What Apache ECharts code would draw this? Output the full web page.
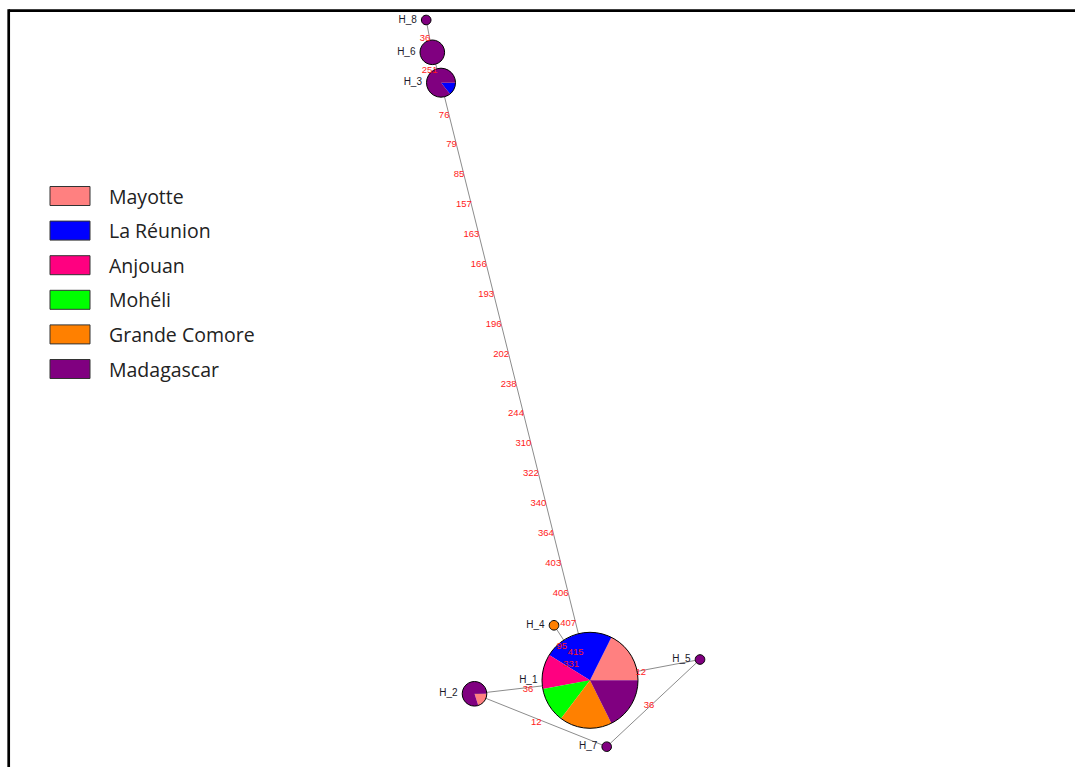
<!DOCTYPE html>
<html>
<head>
<meta charset="utf-8">
<script src="https://cdn.jsdelivr.net/npm/echarts@6/dist/echarts.min.js"></script>
<style>
  html, body { margin: 0; padding: 0; background: #ffffff; }
  #chart { width: 1075px; height: 767px; }
</style>
</head>
<body>
<div id="chart"></div>
<script>
// Populations and their pie colours
const populations = ['Mayotte', 'La Réunion', 'Anjouan', 'Mohéli', 'Grande Comore', 'Madagascar'];
const populationColors = ['#ff8080', '#0000ff', '#ff0080', '#00ff00', '#ff8000', '#800080'];

// Haplotypes and their position in the network layout
const haplotypes = ['H_1', 'H_2', 'H_3', 'H_4', 'H_5', 'H_6', 'H_7', 'H_8'];
const layoutX = [590, 474.5, 441, 554, 700, 432.3, 606.7, 426.2];
const layoutY = [680.3, 693.8, 82.7, 625.3, 659.5, 52.3, 746.7, 20];

// Individuals per population inside each haplotype, in slice order (clockwise from east)
const compH1 = [['Madagascar', 3], ['Grande Comore', 3], ['Mohéli', 2], ['Anjouan', 2], ['La Réunion', 4], ['Mayotte', 3]];
const compH2 = [['Mayotte', 1], ['Madagascar', 4]];
const compH3 = [['La Réunion', 1], ['Madagascar', 6]];
const compH4 = [['Grande Comore', 1]];
const compH5 = [['Madagascar', 1]];
const compH6 = [['Madagascar', 5]];
const compH7 = [['Madagascar', 1]];
const compH8 = [['Madagascar', 1]];
const compositions = [compH1, compH2, compH3, compH4, compH5, compH6, compH7, compH8];

// Network links with the mutated sites written along each one
const linkFrom = ['H_8', 'H_6', 'H_3', 'H_4', 'H_1', 'H_1', 'H_2', 'H_7'];
const linkTo   = ['H_6', 'H_3', 'H_1', 'H_1', 'H_5', 'H_2', 'H_7', 'H_5'];
const linkSites = [
  ['36'],
  ['251'],
  ['76', '79', '85', '157', '163', '166', '193', '196', '202', '238', '244', '310', '322', '340', '364', '403', '406', '407', '415'],
  ['95', '331'],
  ['12'],
  ['36'],
  ['12'],
  ['36']
];

// ---- styling ----
// circle radius (px) against haplotype frequency
const radiusStops = [[1, 4.8], [5, 12.3], [7, 14.5], [17, 48]];
function radiusOf(n) {
  for (let i = 1; i < radiusStops.length; i++) {
    const a = radiusStops[i - 1], b = radiusStops[i];
    if (n <= b[0]) return a[1] + (b[1] - a[1]) * (n - a[0]) / (b[0] - a[0]);
  }
  return radiusStops[radiusStops.length - 1][1];
}

const idx = name => haplotypes.indexOf(name);
const totals = compositions.map(c => c.reduce((s, p) => s + p[1], 0));

// slices per population: [x, y, startAngle, endAngle, radius]
const sliceData = populations.map(() => []);
compositions.forEach((comp, h) => {
  let a = 0;
  const r = radiusOf(totals[h]);
  comp.forEach(([pop, n]) => {
    const span = n / totals[h] * Math.PI * 2;
    sliceData[populations.indexOf(pop)].push([layoutX[h], layoutY[h], a, a + span, r]);
    a += span;
  });
});

const nodeData = haplotypes.map((name, h) => [layoutX[h], layoutY[h], radiusOf(totals[h]), name]);

const linkData = linkFrom.map((f, i) => {
  const a = idx(f), b = idx(linkTo[i]);
  return [layoutX[a], layoutY[a], layoutX[b], layoutY[b]];
});

// site labels are spread evenly along their link
const siteData = [];
linkFrom.forEach((f, i) => {
  const a = idx(f), b = idx(linkTo[i]);
  const m = linkSites[i].length;
  linkSites[i].forEach((s, k) => {
    const t = (k + 1) / (m + 1);
    siteData.push([layoutX[a] + (layoutX[b] - layoutX[a]) * t, layoutY[a] + (layoutY[b] - layoutY[a]) * t, s]);
  });
});

const chart = echarts.init(document.getElementById('chart'), null, { renderer: 'svg' });

const sliceSeries = populations.map((pop, p) => ({
  name: pop,
  type: 'custom',
  coordinateSystem: 'cartesian2d',
  z: 3,
  silent: true,
  itemStyle: { color: populationColors[p] },
  encode: { x: 0, y: 1 },
  data: sliceData[p],
  renderItem: (params, api) => {
    const c = api.coord([api.value(0), api.value(1)]);
    const a0 = api.value(2), a1 = api.value(3), r = api.value(4);
    if (a1 - a0 > Math.PI * 2 - 1e-6) {
      return { type: 'circle', shape: { cx: c[0], cy: c[1], r: r }, style: { fill: populationColors[p] } };
    }
    return {
      type: 'sector',
      shape: { cx: c[0], cy: c[1], r: r, r0: 0, startAngle: a0, endAngle: a1, clockwise: true },
      style: { fill: populationColors[p] }
    };
  }
}));

const option = {
  backgroundColor: '#ffffff',
  animation: false,
  grid: { left: 0, right: 0, top: 0, bottom: 0 },
  xAxis: { type: 'value', min: 0, max: 1075, show: false },
  yAxis: { type: 'value', min: 0, max: 767, inverse: true, show: false },
  legend: {
    orient: 'vertical',
    left: 49.5,
    top: 186,
    padding: 0,
    itemWidth: 40,
    itemHeight: 19,
    itemGap: 14.6,
    icon: 'rect',
    selectedMode: false,
    itemStyle: { borderColor: '#333333', borderWidth: 1 },
    textStyle: { fontFamily: 'Open Sans', fontSize: 19.5, color: '#222222', lineHeight: 19, padding: [0, 0, 0, 14] },
    data: populations
  },
  graphic: [
    { type: 'line', z: 100, shape: { x1: 8.7, y1: 10.7, x2: 1075, y2: 10.7 }, style: { stroke: '#000000', lineWidth: 2.7 } },
    { type: 'line', z: 100, shape: { x1: 8.7, y1: 9.3, x2: 8.7, y2: 767 }, style: { stroke: '#000000', lineWidth: 2.7 } }
  ],
  series: [
    {
      name: 'links',
      type: 'custom',
      coordinateSystem: 'cartesian2d',
      z: 1,
      silent: true,
      encode: { x: [0, 2], y: [1, 3] },
      data: linkData,
      renderItem: (params, api) => {
        const p1 = api.coord([api.value(0), api.value(1)]);
        const p2 = api.coord([api.value(2), api.value(3)]);
        return {
          type: 'line',
          shape: { x1: p1[0], y1: p1[1], x2: p2[0], y2: p2[1] },
          style: { stroke: '#8c8c8c', lineWidth: 1 }
        };
      }
    },
    ...sliceSeries,
    {
      name: 'haplotypes',
      type: 'custom',
      coordinateSystem: 'cartesian2d',
      z: 4,
      silent: true,
      encode: { x: 0, y: 1 },
      data: nodeData,
      renderItem: (params, api) => {
        const c = api.coord([api.value(0), api.value(1)]);
        const r = api.value(2);
        return {
          type: 'group',
          children: [
            { type: 'circle', shape: { cx: c[0], cy: c[1], r: r }, style: { fill: 'none', stroke: '#000000', lineWidth: 1 } },
            {
              type: 'text',
              style: {
                text: nodeData[params.dataIndex][3],
                x: c[0] - r - 4.5, y: c[1] - 1,
                align: 'right', verticalAlign: 'middle',
                fontFamily: 'Liberation Sans', fontSize: 10, fill: '#1a1a2a'
              }
            }
          ]
        };
      }
    },
    {
      name: 'sites',
      type: 'custom',
      coordinateSystem: 'cartesian2d',
      z: 5,
      silent: true,
      encode: { x: 0, y: 1 },
      data: siteData,
      renderItem: (params, api) => {
        const c = api.coord([api.value(0), api.value(1)]);
        return {
          type: 'text',
          style: {
            text: siteData[params.dataIndex][2],
            x: c[0] + 1, y: c[1] + 1.5,
            align: 'right', verticalAlign: 'middle',
            fontFamily: 'Liberation Sans', fontSize: 9.5, fill: '#ff1a1a'
          }
        };
      }
    }
  ]
};

chart.setOption(option);
</script>
</body>
</html>
